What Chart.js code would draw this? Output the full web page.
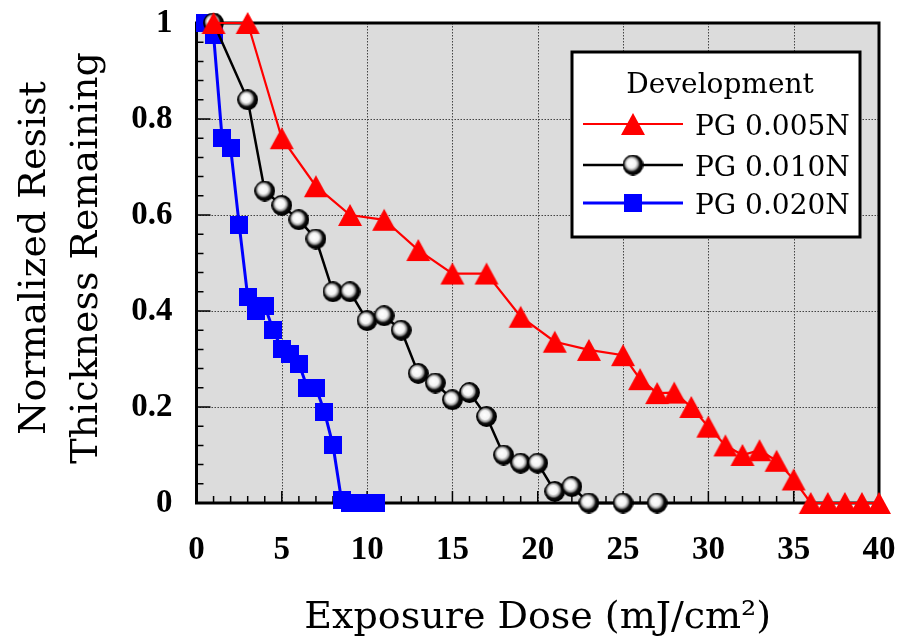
<!DOCTYPE html>
<html>
<head>
<meta charset="utf-8">
<script src="https://cdn.jsdelivr.net/npm/chart.js@4.4.1/dist/chart.umd.min.js"></script>
<style>
  html, body { margin: 0; padding: 0; background: #fff; }
  canvas { display: block; }
</style>
</head>
<body>
<canvas id="dose-chart" width="901" height="644"></canvas>
<script>
// exposure dose in mJ/cm2 vs normalized thickness
var doseRed = [1, 3, 5, 7, 9, 11, 13, 15, 17, 19, 21, 23, 25, 26, 27, 28, 29, 30, 31, 32, 33, 34, 35, 36, 37, 38, 39, 40];
var thickRed = [1, 1, 0.76, 0.66, 0.6, 0.59, 0.527, 0.478, 0.478, 0.388, 0.336, 0.319, 0.308, 0.258, 0.229, 0.23, 0.2, 0.159, 0.12, 0.1, 0.11, 0.088, 0.049, 0, 0, 0, 0, 0];

var doseBlack = [1, 3, 4, 5, 6, 7, 8, 9, 10, 11, 12, 13, 14, 15, 16, 17, 18, 19, 20, 21, 22, 23, 25, 27];
var thickBlack = [1, 0.84, 0.65, 0.62, 0.59, 0.55, 0.44, 0.44, 0.38, 0.39, 0.36, 0.27, 0.25, 0.215, 0.23, 0.18, 0.1, 0.083, 0.083, 0.024, 0.034, 0, 0, 0];

var doseBlue = [0.5, 1, 1.5, 2, 2.5, 3, 3.5, 4, 4.5, 5, 5.5, 6, 6.5, 7, 7.5, 8, 8.5, 9, 9.5, 10, 10.5];
var thickBlue = [1, 0.975, 0.76, 0.74, 0.58, 0.43, 0.4, 0.41, 0.36, 0.32, 0.31, 0.29, 0.24, 0.24, 0.19, 0.12, 0.006, 0, 0, 0, 0];

var seriesLabels = ['PG 0.005N', 'PG 0.010N', 'PG 0.020N'];
var xTickLabels = ['0', '5', '10', '15', '20', '25', '30', '35', '40'];
var yTickLabels = ['0', '0.2', '0.4', '0.6', '0.8', '1'];
var legendTitle = 'Development';
var xTitle = 'Exposure Dose (mJ/cm\u00b2)';
var yTitle = ['Normalized Resist', 'Thickness Remaining'];

function toPoints(xs, ys) {
  var pts = [];
  for (var i = 0; i < xs.length; i++) {
    pts.push({x: xs[i], y: ys[i]});
  }
  return pts;
}

// marker images, centred on the point by their bounding box
function triangleMarker(color) {
  var c = document.createElement('canvas');
  c.width = 26; c.height = 24;
  var g = c.getContext('2d');
  g.fillStyle = color;
  g.beginPath();
  g.moveTo(13, 1);
  g.lineTo(25, 23);
  g.lineTo(1, 23);
  g.closePath();
  g.fill();
  return c;
}

function sphereMarker() {
  var c = document.createElement('canvas');
  c.width = 21; c.height = 21;
  var g = c.getContext('2d');
  var grad = g.createRadialGradient(8.5, 8.5, 0, 9.5, 9.5, 10);
  grad.addColorStop(0, '#ffffff');
  grad.addColorStop(0.45, '#f4f4f4');
  grad.addColorStop(0.65, '#9a9a9a');
  grad.addColorStop(0.8, '#111111');
  grad.addColorStop(1, '#000000');
  g.fillStyle = grad;
  g.beginPath();
  g.arc(10.5, 10.5, 9.8, 0, Math.PI * 2);
  g.fill();
  g.lineWidth = 1.2;
  g.strokeStyle = '#000';
  g.stroke();
  return c;
}

function squareMarker(color) {
  var c = document.createElement('canvas');
  c.width = 18; c.height = 18;
  var g = c.getContext('2d');
  g.fillStyle = color;
  g.fillRect(0, 0, 18, 18);
  return c;
}

var redMark = triangleMarker('#ff0000');
var blackMark = sphereMarker();
var blueMark = squareMarker('#0000ff');

var framePlugin = {
  id: 'framePlugin',
  beforeDraw: function(chart) {
    var a = chart.chartArea, ctx = chart.ctx;
    ctx.save();
    ctx.fillStyle = '#dcdcdc';
    ctx.fillRect(a.left, a.top, a.right - a.left, a.bottom - a.top);
    ctx.restore();
  },
  beforeDatasetsDraw: function(chart) {
    var a = chart.chartArea, ctx = chart.ctx;
    var xs = chart.scales.x, ys = chart.scales.y;
    ctx.save();
    // dotted major grid
    ctx.strokeStyle = '#444';
    ctx.lineWidth = 1;
    ctx.setLineDash([1.5, 1.5]);
    ctx.beginPath();
    xs.ticks.forEach(function(t) {
      var px = Math.round(xs.getPixelForValue(t.value)) + 0.5;
      ctx.moveTo(px, a.top);
      ctx.lineTo(px, a.bottom);
    });
    ys.ticks.forEach(function(t) {
      var py = Math.round(ys.getPixelForValue(t.value)) + 0.5;
      ctx.moveTo(a.left, py);
      ctx.lineTo(a.right, py);
    });
    ctx.stroke();
    ctx.setLineDash([]);

    // inner ticks
    ctx.strokeStyle = '#000';
    ctx.lineWidth = 1.5;
    ctx.beginPath();
    for (var v = 1; v < 40; v++) {
      var px = xs.getPixelForValue(v);
      var len = (v % 5 === 0) ? 12 : 7;
      ctx.moveTo(px, a.bottom);
      ctx.lineTo(px, a.bottom - len);
    }
    for (var i = 1; i < 25; i++) {
      var py = ys.getPixelForValue(i * 0.04);
      var l2 = (i % 5 === 0) ? 14 : 7;
      ctx.moveTo(a.left, py);
      ctx.lineTo(a.left + l2, py);
    }
    ctx.stroke();
    ctx.lineWidth = 3;
    ctx.strokeRect(a.left, a.top, a.right - a.left, a.bottom - a.top);
    ctx.restore();
  },
  afterDraw: function(chart) {
    var a = chart.chartArea, ctx = chart.ctx;
    ctx.save();
    ctx.fillStyle = '#000';
    ctx.font = '38px "DejaVu Serif"';
    ctx.textAlign = 'center';
    ctx.textBaseline = 'alphabetic';
    ctx.fillText(xTitle, (a.left + a.right) / 2, 628);

    ctx.translate(0, 258);
    ctx.rotate(-Math.PI / 2);
    ctx.fillText(yTitle[0], 0, 45);
    ctx.fillText(yTitle[1], 0, 97);
    ctx.restore();

    // legend box
    ctx.save();
    ctx.fillStyle = '#fff';
    ctx.fillRect(572, 52, 288, 185);
    ctx.lineWidth = 3;
    ctx.strokeStyle = '#000';
    ctx.strokeRect(572, 52, 288, 185);
    ctx.fillStyle = '#000';
    ctx.font = '28px "DejaVu Serif"';
    ctx.textAlign = 'center';
    ctx.fillText(legendTitle, 720, 93);
    var rows = [124, 165, 203];
    var marks = [redMark, blackMark, blueMark];
    chart.data.datasets.forEach(function(ds, k) {
      var y = rows[k];
      ctx.strokeStyle = ds.borderColor;
      ctx.lineWidth = ds.borderWidth;
      ctx.beginPath();
      ctx.moveTo(583, y);
      ctx.lineTo(683, y);
      ctx.stroke();
      var m = marks[k];
      ctx.drawImage(m, 633 - m.width / 2, y - m.height / 2);
      ctx.fillStyle = '#000';
      ctx.textAlign = 'left';
      ctx.fillText(ds.label, 695, y + 11);
    });
    ctx.restore();
  }
};

var ctx = document.getElementById('dose-chart').getContext('2d');
var chart = new Chart(ctx, {
  type: 'line',
  data: {
    datasets: [
      {
        label: seriesLabels[0],
        data: toPoints(doseRed, thickRed),
        borderColor: '#ff0000',
        borderWidth: 2.2,
        pointStyle: redMark,
        clip: false
      },
      {
        label: seriesLabels[1],
        data: toPoints(doseBlack, thickBlack),
        borderColor: '#000000',
        borderWidth: 2.5,
        pointStyle: blackMark,
        clip: false
      },
      {
        label: seriesLabels[2],
        data: toPoints(doseBlue, thickBlue),
        borderColor: '#0000ff',
        borderWidth: 3,
        pointStyle: blueMark,
        clip: false
      }
    ]
  },
  options: {
    responsive: false,
    animation: false,
    events: [],
    layout: { padding: { left: 0, top: 23, right: 22, bottom: 0 } },
    plugins: {
      legend: { display: false },
      tooltip: { enabled: false }
    },
    scales: {
      x: {
        type: 'linear',
        min: 0,
        max: 40,
        afterFit: function(scale) {
          scale.height = 141;
          scale.paddingLeft = 0;
          scale.paddingRight = 0;
        },
        ticks: {
          stepSize: 5,
          padding: 28,
          color: '#000',
          font: { family: 'Liberation Serif', size: 33, weight: 'bold' },
          callback: function(v) { return xTickLabels[Math.round(v / 5)]; }
        },
        grid: { display: false, drawTicks: false },
        border: { display: false }
      },
      y: {
        type: 'linear',
        min: 0,
        max: 1,
        afterFit: function(scale) {
          scale.width = 196.5;
          scale.paddingTop = 0;
          scale.paddingBottom = 0;
        },
        ticks: {
          stepSize: 0.2,
          padding: 24,
          color: '#000',
          font: { family: 'Liberation Serif', size: 33, weight: 'bold' },
          callback: function(v) { return yTickLabels[Math.round(v / 0.2)]; }
        },
        grid: { display: false, drawTicks: false },
        border: { display: false }
      }
    }
  },
  plugins: [framePlugin]
});
</script>
</body>
</html>
